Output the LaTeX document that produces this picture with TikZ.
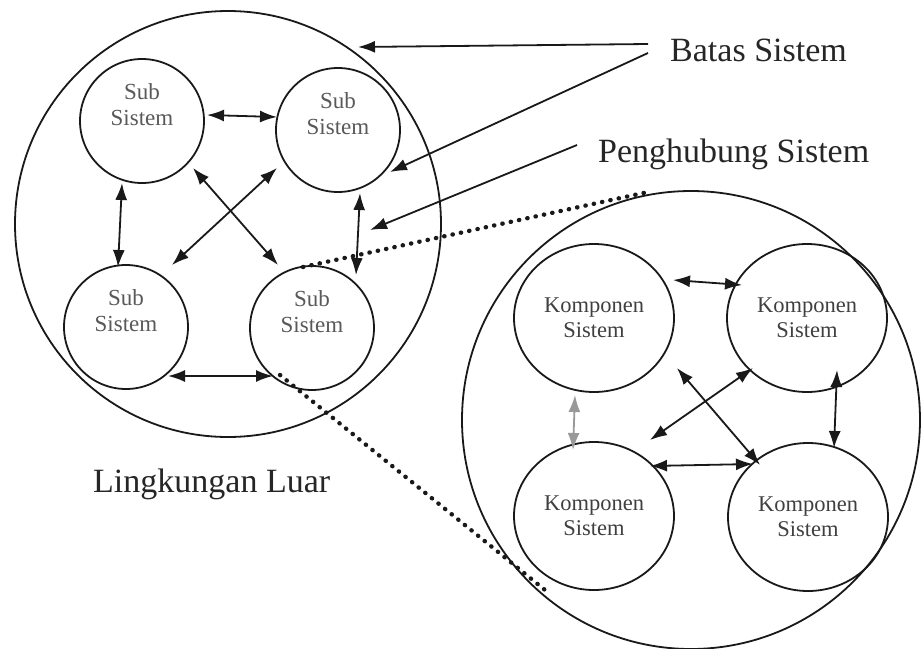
\documentclass[tikz,border=0pt]{standalone}
\usepackage{fontspec}
\setmainfont{Liberation Serif}
\usetikzlibrary{arrows.meta,calc,shapes.geometric}
\begin{document}
\begin{tikzpicture}[x=1pt,y=-1pt,
  ln/.style={line width=1.8pt,draw=black!90},
  big/.style={circle,draw,ln,minimum size=#1,inner sep=0pt,outer sep=0pt},
  sub/.style={circle,draw,ln,minimum size=124pt,inner sep=0pt,outer sep=0pt},
  komp/.style={ellipse,draw,ln,minimum width=160pt,minimum height=148pt,inner sep=0pt,outer sep=0pt,align=center,text=black!75,font=\fontsize{22.5}{25}\selectfont},
  subtxt/.style={align=center,text=black!65,font=\fontsize{23}{26}\selectfont,inner sep=0pt},
  lbl/.style={font=\fontsize{34}{40}\selectfont,text=black!85,inner sep=0pt,anchor=base west},
  tip/.tip={Latex[length=17pt,width=12pt]},
  link/.style={ln,tip-tip},
  ptr/.style={ln,-tip},
  dots/.style={draw=black!90,line width=4.4pt,line cap=round,dash pattern=on 0.3pt off 8.2pt}
]
\useasboundingbox[fill=white] (0,0) rectangle (921,648);

% system boundaries
\node[big=426pt] (sysL) at (228,224) {};
\node[big=458pt] (sysR) at (691,420) {};

% sub systems
\node[sub,label={[subtxt,yshift=16pt]center:{Sub\\Sistem}}] (tl) at (142,121) {};
\node[sub,label={[subtxt,yshift=16pt]center:{Sub\\Sistem}}] (tr) at (338,130) {};
\node[sub,label={[subtxt,yshift=16pt]center:{Sub\\Sistem}}] (bl) at (126,327) {};
\node[sub,label={[subtxt,yshift=16pt]center:{Sub\\Sistem}}] (br) at (312,328) {};

% components
\node[komp] (ktl) at (594,318) {Komponen\\Sistem};
\node[komp] (ktr) at (807,318) {Komponen\\Sistem};
\node[komp] (kbl) at (594,516) {Komponen\\Sistem};
\node[komp] (kbr) at (808,517) {Komponen\\Sistem};

% labels
\node[lbl] (batas) at (670,61) {Batas Sistem};
\node[lbl] (peng) at (598,162) {Penghubung Sistem};
\node[lbl] (luar) at (93,492) {Lingkungan Luar};
\coordinate (pconn) at (370,230);

% links between sub systems
\draw[link] ($(tl)+(65,-6)$) -- ($(tr)+(-61,-13)$);
\draw[link] ($(tl)+(-20,62)$) -- ($(bl)+(-8,-60)$);
\draw[link] ($(tr)+(22,63)$) -- ($(br)+(44,-53)$);
\draw[link] ($(bl)+(42,49)$) -- ($(br)+(-39,48)$);
\draw[link] ($(tl)+(51,47)$) -- ($(br)+(-34,-63)$);
\draw[link] ($(tr)+(-61,38)$) -- ($(bl)+(46,-62)$);

% links between components
\draw[link] ($(ktl)+(79,-38)$) -- ($(ktr)+(-65,-33)$);
\draw[link,draw=black!40] ($(ktl)+(-19,77)$) -- ($(kbl)+(-21,-66)$);
\draw[link] ($(ktr)+(30,52)$) -- ($(kbr)+(26,-69)$);
\draw[link] ($(kbl)+(56,-50)$) -- ($(kbr)+(-55,-53)$);
\draw[link] ($(ktl)+(83,50)$) -- ($(kbr)+(-48,-52)$);
\draw[link] ($(ktr)+(-54,50)$) -- ($(kbl)+(56,-76)$);

% label pointers
\draw[ptr] ($(batas.base west)+(-22,-17)$) -- ($(sysL)+(130,-177)$);
\draw[ptr] ($(batas.base west)+(-22,-8)$) -- ($(tr)+(52,42)$);
\draw[ptr] ($(peng.base west)+(-21,-17)$) -- (pconn);

% zoom lines
\draw[dots] ($(br)+(-9,-61)$) -- ($(sysR)+(-43,-228)$);
\draw[dots] ($(br)+(-32,47)$) -- ($(sysR)+(-146,170)$);
\end{tikzpicture}
\end{document}
